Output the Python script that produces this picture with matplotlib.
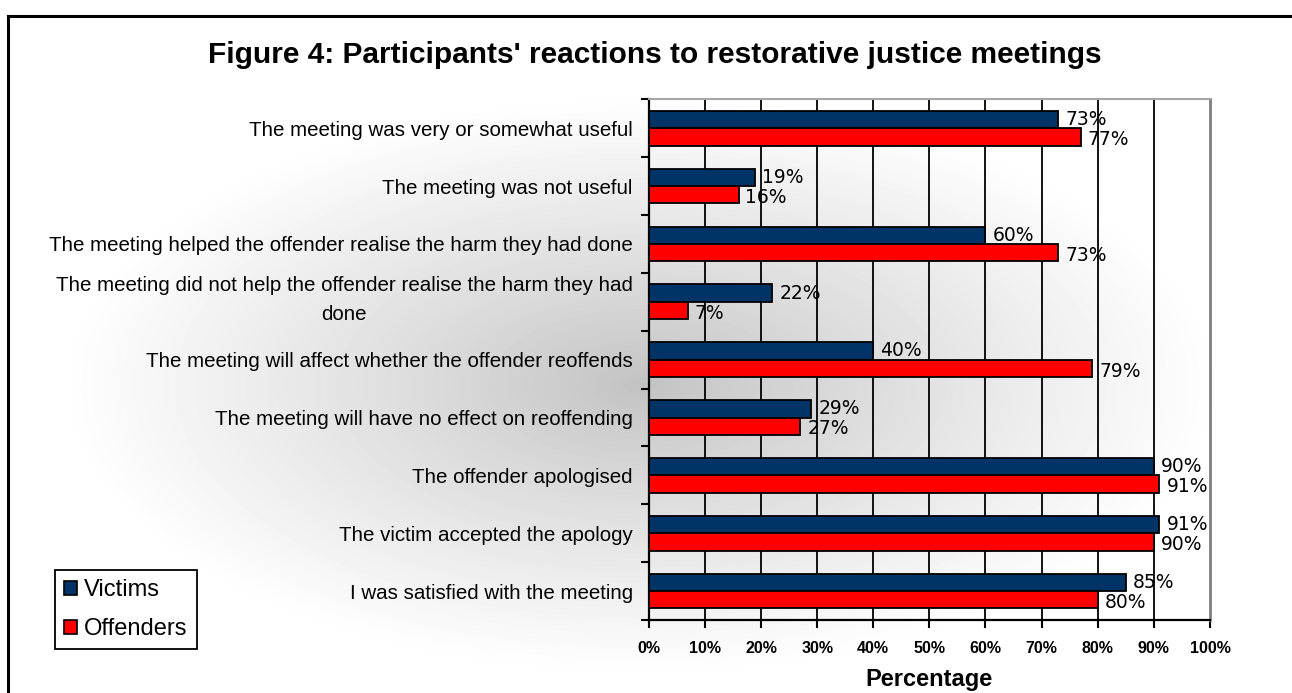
import numpy as np
import matplotlib
matplotlib.use("Agg")
import matplotlib.pyplot as plt
from matplotlib.patches import Patch
from matplotlib.lines import Line2D

categories = [
    "The meeting was very or somewhat useful",
    "The meeting was not useful",
    "The meeting helped the offender realise the harm they had done",
    "The meeting did not help the offender realise the harm they had\ndone",
    "The meeting will affect whether the offender reoffends",
    "The meeting will have no effect on reoffending",
    "The offender apologised",
    "The victim accepted the apology",
    "I was satisfied with the meeting",
]
victims = [73, 19, 60, 22, 40, 29, 90, 91, 85]
offenders = [77, 16, 73, 7, 79, 27, 91, 90, 80]
x_ticks = [0, 10, 20, 30, 40, 50, 60, 70, 80, 90, 100]
series_names = ["Victims", "Offenders"]

VICTIM_COLOR = "#003366"
OFFENDER_COLOR = "#ff0000"

W, H, DPI = 1292, 693, 100
fig = plt.figure(figsize=(W / DPI, H / DPI), dpi=DPI)
fig.patch.set_facecolor("white")

# soft elliptical grey shading behind everything
bg = fig.add_axes([0, 0, 1, 1], zorder=-10)
yy, xx = np.mgrid[0:H, 0:W]
r = np.sqrt(((xx - 640) / 580.0) ** 2 + ((yy - 385) / 290.0) ** 2)
shade = 0.76 + 0.24 * np.clip(r, 0, 1) ** 0.9
bg.imshow(shade, cmap="gray", vmin=0, vmax=1, extent=[0, W, H, 0], aspect="auto", interpolation="bilinear")
bg.set_xlim(0, W)
bg.set_ylim(H, 0)
bg.axis("off")

# outer frame (left and top edges)
fig.add_artist(Line2D([8 / W, 8 / W], [0, 1 - 15.5 / H], color="black", lw=2.2, transform=fig.transFigure))
fig.add_artist(Line2D([8 / W, 1], [1 - 15.5 / H, 1 - 15.5 / H], color="black", lw=2.2, transform=fig.transFigure))

left, right, top, bottom = 648.7, 1210, 99.3, 620
ax = fig.add_axes([left / W, 1 - bottom / H, (right - left) / W, (bottom - top) / H])
ax.set_facecolor("none")

n = len(categories)
pos = np.arange(n)
bh = 0.30
ax.barh(pos - bh / 2, victims, height=bh, color=VICTIM_COLOR, edgecolor="black", linewidth=1.3, zorder=3)
ax.barh(pos + bh / 2, offenders, height=bh, color=OFFENDER_COLOR, edgecolor="black", linewidth=1.3, zorder=3)

label_font = dict(family="DejaVu Sans", fontsize=13.5, color="black")
for i in range(n):
    ax.annotate(f"{victims[i]}%", (victims[i], pos[i] - bh / 2), xytext=(5, 0), textcoords="offset points",
                va="center", ha="left", zorder=5, **label_font)
    ax.annotate(f"{offenders[i]}%", (offenders[i], pos[i] + bh / 2), xytext=(5, -2), textcoords="offset points",
                va="center", ha="left", zorder=5, **label_font)

ax.set_xlim(0, 100)
ax.set_ylim(n - 0.5, -0.5)

ax.set_xticks(x_ticks)
ax.set_xticklabels([f"{t}%" for t in x_ticks], family=["Liberation Sans Narrow", "Liberation Sans"],
                   fontweight="bold", fontsize=11.5)
ax.tick_params(axis="x", direction="out", length=6, width=1.5, color="black", pad=9)
for t in x_ticks[1:-1]:
    ax.axvline(t, color="black", lw=1.3, zorder=1)

# category labels: single-line ones as tick labels, wrapped ones drawn separately
cat_font = dict(family="Liberation Sans", fontsize=14.8)
label_gap_pt = 11.5
ax.set_yticks(np.arange(-0.5, n, 1.0))
ax.set_yticklabels([])
ax.tick_params(axis="y", which="major", direction="out", length=6, width=1.5, color="black")
ax.set_yticks(pos, minor=True)
ax.set_yticklabels([c if "\n" not in c else "" for c in categories], minor=True, **cat_font)
ax.tick_params(axis="y", which="minor", length=0, pad=label_gap_pt)
for i, c in enumerate(categories):
    if "\n" in c:
        ax.annotate(c, (0, pos[i]), xycoords=("axes fraction", "data"), xytext=(-label_gap_pt, 1.5),
                    textcoords="offset points", ha="right", va="center", multialignment="center",
                    linespacing=1.68, **cat_font)

for s in ("left", "bottom"):
    ax.spines[s].set_color("black")
    ax.spines[s].set_linewidth(1.6)
ax.spines["right"].set_color("#7f7f7f")
ax.spines["right"].set_linewidth(2.0)
ax.spines["top"].set_color("#a6a6a6")
ax.spines["top"].set_linewidth(1.5)

ax.set_xlabel("Percentage", family="Liberation Sans", fontweight="bold", fontsize=17, labelpad=9)

fig.text(655 / W, 1 - 55 / H, "Figure 4: Participants' reactions to restorative justice meetings",
         ha="center", va="center", family="Liberation Sans", fontweight="bold", fontsize=21.5)

handles = [Patch(facecolor=VICTIM_COLOR, edgecolor="black", linewidth=1.2),
           Patch(facecolor=OFFENDER_COLOR, edgecolor="black", linewidth=1.2)]
leg = fig.legend(handles, series_names, loc="upper left", bbox_to_anchor=(55 / W, 1 - 570 / H),
                 prop=dict(family="Liberation Sans", size=17), frameon=True, fancybox=False,
                 handlelength=0.55, handleheight=0.55, handletextpad=0.3, borderpad=0.38,
                 labelspacing=0.72, borderaxespad=0, edgecolor="black", facecolor="white", framealpha=1)
leg.get_frame().set_linewidth(1.3)

fig.savefig("out.png", dpi=DPI)
